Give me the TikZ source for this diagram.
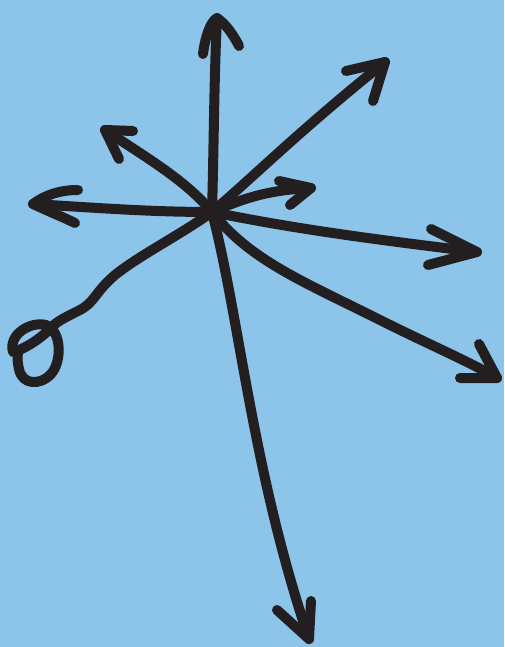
\documentclass[tikz,border=0pt]{standalone}
\begin{document}
\begin{tikzpicture}[x=1pt,y=-1pt,
  ink/.style={draw=inkc,line width=10pt,line cap=round,line join=round}]
\definecolor{bgc}{HTML}{8CC4EA}
\definecolor{inkc}{HTML}{231F20}
\fill[bgc] (0,0) rectangle (504,647);
\useasboundingbox (0,0) rectangle (504,647);
\coordinate (C) at (212,212);
% up
\coordinate (tU) at (217,18);
\draw[ink] (C) .. controls (214,140) and (214,80) .. (tU);
\draw[ink] (203,54) .. controls (205,38) and (210,22) .. (tU) .. controls (226,24) and (234,36) .. (239,46);
% upper right
\coordinate (tUR) at (385,62);
\draw[ink] (C) .. controls (250,180) and (300,130) .. (tUR);
\draw[ink] (346,71) -- (tUR) -- (373,101);
% upper left
\coordinate (tUL) at (105,130);
\draw[ink] (C) .. controls (185,180) and (150,160) .. (tUL);
\draw[ink] (133,131) -- (tUL) -- (119,159);
% short right
\coordinate (tSR) at (311,188);
\draw[ink] (C) .. controls (240,200) and (265,190) .. (tSR);
\draw[ink] (279,181) -- (tSR) -- (290,205);
% left
\coordinate (tL) at (33,204);
\draw[ink] (C) .. controls (150,212) and (100,208) .. (tL);
\draw[ink] (78,190) .. controls (60,190) and (45,195) .. (tL) .. controls (50,212) and (65,218) .. (75,223);
% right
\coordinate (tR) at (477,252);
\draw[ink] (C) .. controls (300,230) and (380,240) .. (tR);
\draw[ink] (431,229) -- (tR) -- (428,265);
% lower right
\coordinate (tLR) at (497,378);
\draw[ink] (C) .. controls (250,260) and (300,280) .. (380,320) .. controls (430,345) and (470,362) .. (tLR);
\draw[ink] (479,344) -- (tLR) -- (460,378);
% down
\coordinate (tD) at (309,639);
\draw[ink] (C) .. controls (240,320) and (252,470) .. (tD);
\draw[ink] (277,610) -- (tD) -- (311,601);
% lower left with loop
\coordinate (lp) at (55,324);
\draw[ink] (C) .. controls (180,235) and (140,255) .. (115,275) .. controls (95,292) and (95,302) .. (80,310) .. controls (68,316) and (60,320) .. (lp);
\draw[ink] (lp) .. controls (45,335) and (28,348) .. (13,352) .. controls (8,335) and (30,321) .. (46,325) .. controls (62,331) and (62,362) .. (51,374) .. controls (40,386) and (22,385) .. (19,369) .. controls (17,360) and (17,355) .. (19,350);
\end{tikzpicture}
\end{document}
